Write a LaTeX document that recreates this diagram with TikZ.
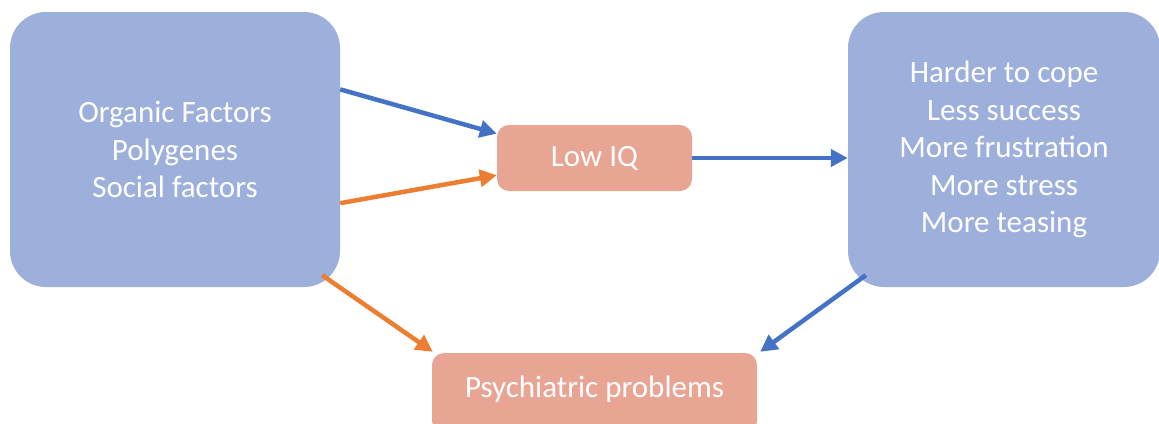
\documentclass[tikz,border=0pt]{standalone}
\usepackage{fontspec}
\setmainfont{Carlito}
\usetikzlibrary{arrows.meta,calc}

\definecolor{boxblue}{RGB}{157,176,219}
\definecolor{boxsalmon}{RGB}{233,165,148}
\definecolor{arrblue}{RGB}{68,114,196}
\definecolor{arrorange}{RGB}{237,125,49}

\tikzset{
  bigbox/.style={fill=boxblue,rounded corners=36pt,inner sep=0pt,align=center,
    text=white,font=\fontsize{31}{37.5}\selectfont},
  smallbox/.style={fill=boxsalmon,rounded corners=12pt,inner sep=0pt,align=center,
    text=white,font=\fontsize{31}{37.5}\selectfont},
  bluearrow/.style={draw=arrblue,line width=4.5pt,-{Triangle[length=17pt,width=17pt]}},
  orangearrow/.style={draw=arrorange,line width=4.5pt,-{Triangle[length=17pt,width=17pt]}}
}

\begin{document}
\begin{tikzpicture}[x=1pt,y=-1pt]
\useasboundingbox (0,0) rectangle (1159,423);
% boxes
\node[bigbox,minimum width=330pt,minimum height=275pt] (causes) at (175,149.5)
  {Organic Factors\\Polygenes\\Social factors};
\node[bigbox,minimum width=312pt,minimum height=275pt] (effects) at (1004,149.5)
  {Harder to cope\\Less success\\More frustration\\More stress\\More teasing};
\node[smallbox,minimum width=195pt,minimum height=66pt] (lowiq) at (594.5,158) {Low IQ};
\node[smallbox,minimum width=325pt,minimum height=80pt] (psych) at (594.5,393)
  {\raisebox{12pt}{Psychiatric problems}};
% arrows
\draw[bluearrow] (causes.20.7) -- (lowiq.166);
\draw[orangearrow] (causes.-18) -- (lowiq.190);
\draw[bluearrow] (lowiq.east) -- (effects.west |- lowiq.east);
\draw[orangearrow] ($(causes.south east)+(-18,-12)$) -- ($(psych.north west)+(1,-1)$);
\draw[bluearrow] ($(effects.south west)+(18,-12)$) -- ($(psych.north east)+(3,-1)$);
\end{tikzpicture}
\end{document}
